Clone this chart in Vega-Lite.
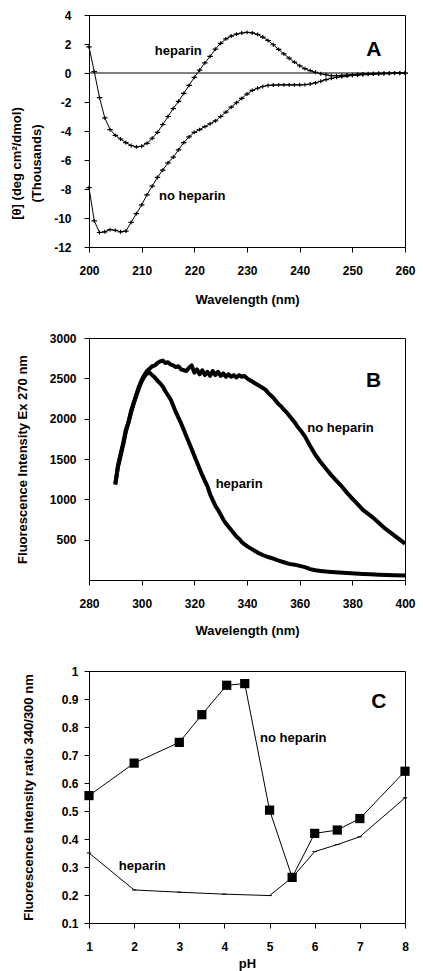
{
  "$schema": "https://vega.github.io/schema/vega-lite/v6.json",
  "autosize": {"type": "pad"},
  "padding": {"left": 9, "top": 8, "right": 5, "bottom": 5},
  "background": "white",
  "spacing": 91,
  "bounds": "flush",
  "config": {
    "view": {"stroke": "#000", "strokeWidth": 1},
    "font": "Liberation Sans",
    "axis": {"domainColor": "#000", "tickColor": "#000", "labelColor": "#000", "titleColor": "#000", "grid": false,
      "labelFont": "Liberation Sans", "labelFontWeight": "bold", "labelFontSize": 12,
      "titleFont": "Liberation Sans", "titleFontWeight": "bold", "titleFontSize": 13,
      "tickSize": 5, "domainWidth": 1, "tickWidth": 1, "labelOverlap": false, "labelFlush": false},
    "text": {"font": "Liberation Sans", "fontWeight": "bold", "fontSize": 13, "color": "#000"}
  },
  "datasets": {
    "cd": [
      {"s":"heparin","wl":200,"v":1.8},{"s":"heparin","wl":201,"v":0.1},{"s":"heparin","wl":202,"v":-1.7},{"s":"heparin","wl":203,"v":-3.1},{"s":"heparin","wl":204,"v":-3.9},{"s":"heparin","wl":205,"v":-4.3},{"s":"heparin","wl":206,"v":-4.55},{"s":"heparin","wl":207,"v":-4.8},{"s":"heparin","wl":208,"v":-5.0},{"s":"heparin","wl":209,"v":-5.1},{"s":"heparin","wl":210,"v":-5.05},{"s":"heparin","wl":211,"v":-4.85},{"s":"heparin","wl":212,"v":-4.5},{"s":"heparin","wl":213,"v":-4.1},{"s":"heparin","wl":214,"v":-3.55},{"s":"heparin","wl":215,"v":-3.0},{"s":"heparin","wl":216,"v":-2.45},{"s":"heparin","wl":217,"v":-1.95},{"s":"heparin","wl":218,"v":-1.4},{"s":"heparin","wl":219,"v":-0.85},{"s":"heparin","wl":220,"v":-0.3},{"s":"heparin","wl":221,"v":0.2},{"s":"heparin","wl":222,"v":0.7},{"s":"heparin","wl":223,"v":1.15},{"s":"heparin","wl":224,"v":1.65},{"s":"heparin","wl":225,"v":2.05},{"s":"heparin","wl":226,"v":2.35},{"s":"heparin","wl":227,"v":2.55},{"s":"heparin","wl":228,"v":2.68},{"s":"heparin","wl":229,"v":2.76},{"s":"heparin","wl":230,"v":2.8},{"s":"heparin","wl":231,"v":2.77},{"s":"heparin","wl":232,"v":2.66},{"s":"heparin","wl":233,"v":2.48},{"s":"heparin","wl":234,"v":2.24},{"s":"heparin","wl":235,"v":1.95},{"s":"heparin","wl":236,"v":1.63},{"s":"heparin","wl":237,"v":1.32},{"s":"heparin","wl":238,"v":1.02},{"s":"heparin","wl":239,"v":0.75},{"s":"heparin","wl":240,"v":0.5},{"s":"heparin","wl":241,"v":0.3},{"s":"heparin","wl":242,"v":0.16},{"s":"heparin","wl":243,"v":0.05},{"s":"heparin","wl":244,"v":-0.05},{"s":"heparin","wl":245,"v":-0.12},{"s":"heparin","wl":246,"v":-0.18},{"s":"heparin","wl":247,"v":-0.19},{"s":"heparin","wl":248,"v":-0.17},{"s":"heparin","wl":249,"v":-0.14},{"s":"heparin","wl":250,"v":-0.11},{"s":"heparin","wl":251,"v":-0.08},{"s":"heparin","wl":252,"v":-0.06},{"s":"heparin","wl":253,"v":-0.04},{"s":"heparin","wl":254,"v":-0.03},{"s":"heparin","wl":255,"v":-0.02},{"s":"heparin","wl":256,"v":-0.01},{"s":"heparin","wl":257,"v":0},{"s":"heparin","wl":258,"v":0.01},{"s":"heparin","wl":259,"v":0.01},{"s":"heparin","wl":260,"v":0},
      {"s":"no heparin","wl":200,"v":-7.9},{"s":"no heparin","wl":201,"v":-10.2},{"s":"no heparin","wl":202,"v":-11.0},{"s":"no heparin","wl":203,"v":-10.95},{"s":"no heparin","wl":204,"v":-10.8},{"s":"no heparin","wl":205,"v":-10.85},{"s":"no heparin","wl":206,"v":-10.95},{"s":"no heparin","wl":207,"v":-10.9},{"s":"no heparin","wl":208,"v":-10.3},{"s":"no heparin","wl":209,"v":-9.7},{"s":"no heparin","wl":210,"v":-9.1},{"s":"no heparin","wl":211,"v":-8.4},{"s":"no heparin","wl":212,"v":-7.8},{"s":"no heparin","wl":213,"v":-7.2},{"s":"no heparin","wl":214,"v":-6.7},{"s":"no heparin","wl":215,"v":-6.2},{"s":"no heparin","wl":216,"v":-5.8},{"s":"no heparin","wl":217,"v":-5.3},{"s":"no heparin","wl":218,"v":-4.8},{"s":"no heparin","wl":219,"v":-4.4},{"s":"no heparin","wl":220,"v":-4.1},{"s":"no heparin","wl":221,"v":-3.9},{"s":"no heparin","wl":222,"v":-3.7},{"s":"no heparin","wl":223,"v":-3.5},{"s":"no heparin","wl":224,"v":-3.3},{"s":"no heparin","wl":225,"v":-3.0},{"s":"no heparin","wl":226,"v":-2.7},{"s":"no heparin","wl":227,"v":-2.35},{"s":"no heparin","wl":228,"v":-2.05},{"s":"no heparin","wl":229,"v":-1.75},{"s":"no heparin","wl":230,"v":-1.45},{"s":"no heparin","wl":231,"v":-1.2},{"s":"no heparin","wl":232,"v":-1.05},{"s":"no heparin","wl":233,"v":-0.93},{"s":"no heparin","wl":234,"v":-0.86},{"s":"no heparin","wl":235,"v":-0.83},{"s":"no heparin","wl":236,"v":-0.82},{"s":"no heparin","wl":237,"v":-0.82},{"s":"no heparin","wl":238,"v":-0.82},{"s":"no heparin","wl":239,"v":-0.82},{"s":"no heparin","wl":240,"v":-0.82},{"s":"no heparin","wl":241,"v":-0.8},{"s":"no heparin","wl":242,"v":-0.76},{"s":"no heparin","wl":243,"v":-0.68},{"s":"no heparin","wl":244,"v":-0.57},{"s":"no heparin","wl":245,"v":-0.45},{"s":"no heparin","wl":246,"v":-0.37},{"s":"no heparin","wl":247,"v":-0.3},{"s":"no heparin","wl":248,"v":-0.25},{"s":"no heparin","wl":249,"v":-0.21},{"s":"no heparin","wl":250,"v":-0.17},{"s":"no heparin","wl":251,"v":-0.14},{"s":"no heparin","wl":252,"v":-0.12},{"s":"no heparin","wl":253,"v":-0.1},{"s":"no heparin","wl":254,"v":-0.08},{"s":"no heparin","wl":255,"v":-0.07},{"s":"no heparin","wl":256,"v":-0.05},{"s":"no heparin","wl":257,"v":-0.04},{"s":"no heparin","wl":258,"v":-0.03},{"s":"no heparin","wl":259,"v":-0.02},{"s":"no heparin","wl":260,"v":-0.01}
    ],
    "fl": [
      {"s":"no heparin","wl":290,"v":1180},{"s":"no heparin","wl":291,"v":1420},{"s":"no heparin","wl":292,"v":1560},{"s":"no heparin","wl":293,"v":1700},{"s":"no heparin","wl":294,"v":1860},{"s":"no heparin","wl":295,"v":1960},{"s":"no heparin","wl":296,"v":2100},{"s":"no heparin","wl":297,"v":2200},{"s":"no heparin","wl":298,"v":2300},{"s":"no heparin","wl":299,"v":2400},{"s":"no heparin","wl":300,"v":2480},{"s":"no heparin","wl":301,"v":2540},{"s":"no heparin","wl":302,"v":2590},{"s":"no heparin","wl":303,"v":2620},{"s":"no heparin","wl":304,"v":2650},{"s":"no heparin","wl":305,"v":2660},{"s":"no heparin","wl":306,"v":2690},{"s":"no heparin","wl":307,"v":2710},{"s":"no heparin","wl":308,"v":2720},{"s":"no heparin","wl":309,"v":2690},{"s":"no heparin","wl":310,"v":2700},{"s":"no heparin","wl":311,"v":2670},{"s":"no heparin","wl":312,"v":2660},{"s":"no heparin","wl":313,"v":2640},{"s":"no heparin","wl":314,"v":2650},{"s":"no heparin","wl":315,"v":2610},{"s":"no heparin","wl":316,"v":2600},{"s":"no heparin","wl":317,"v":2590},{"s":"no heparin","wl":318,"v":2630},{"s":"no heparin","wl":319,"v":2660},{"s":"no heparin","wl":320,"v":2570},{"s":"no heparin","wl":321,"v":2610},{"s":"no heparin","wl":322,"v":2550},{"s":"no heparin","wl":323,"v":2600},{"s":"no heparin","wl":324,"v":2540},{"s":"no heparin","wl":325,"v":2580},{"s":"no heparin","wl":326,"v":2530},{"s":"no heparin","wl":327,"v":2590},{"s":"no heparin","wl":328,"v":2540},{"s":"no heparin","wl":329,"v":2580},{"s":"no heparin","wl":330,"v":2530},{"s":"no heparin","wl":331,"v":2560},{"s":"no heparin","wl":332,"v":2520},{"s":"no heparin","wl":333,"v":2550},{"s":"no heparin","wl":334,"v":2520},{"s":"no heparin","wl":335,"v":2540},{"s":"no heparin","wl":336,"v":2510},{"s":"no heparin","wl":337,"v":2540},{"s":"no heparin","wl":338,"v":2520},{"s":"no heparin","wl":339,"v":2530},{"s":"no heparin","wl":340,"v":2500},{"s":"no heparin","wl":341,"v":2480},{"s":"no heparin","wl":342,"v":2460},{"s":"no heparin","wl":343,"v":2440},{"s":"no heparin","wl":344,"v":2420},{"s":"no heparin","wl":345,"v":2400},{"s":"no heparin","wl":346,"v":2380},{"s":"no heparin","wl":347,"v":2360},{"s":"no heparin","wl":348,"v":2320},{"s":"no heparin","wl":349,"v":2290},{"s":"no heparin","wl":350,"v":2260},{"s":"no heparin","wl":351,"v":2220},{"s":"no heparin","wl":352,"v":2180},{"s":"no heparin","wl":353,"v":2150},{"s":"no heparin","wl":354,"v":2110},{"s":"no heparin","wl":355,"v":2080},{"s":"no heparin","wl":356,"v":2040},{"s":"no heparin","wl":357,"v":2000},{"s":"no heparin","wl":358,"v":1960},{"s":"no heparin","wl":359,"v":1910},{"s":"no heparin","wl":360,"v":1870},{"s":"no heparin","wl":362,"v":1780},{"s":"no heparin","wl":364,"v":1660},{"s":"no heparin","wl":366,"v":1550},{"s":"no heparin","wl":368,"v":1460},{"s":"no heparin","wl":370,"v":1380},{"s":"no heparin","wl":372,"v":1300},{"s":"no heparin","wl":374,"v":1230},{"s":"no heparin","wl":376,"v":1160},{"s":"no heparin","wl":378,"v":1080},{"s":"no heparin","wl":380,"v":1010},{"s":"no heparin","wl":382,"v":940},{"s":"no heparin","wl":384,"v":870},{"s":"no heparin","wl":386,"v":820},{"s":"no heparin","wl":388,"v":770},{"s":"no heparin","wl":390,"v":710},{"s":"no heparin","wl":392,"v":650},{"s":"no heparin","wl":394,"v":600},{"s":"no heparin","wl":396,"v":550},{"s":"no heparin","wl":398,"v":500},{"s":"no heparin","wl":400,"v":450},
      {"s":"heparin","wl":290,"v":1200},{"s":"heparin","wl":291,"v":1400},{"s":"heparin","wl":292,"v":1540},{"s":"heparin","wl":293,"v":1680},{"s":"heparin","wl":294,"v":1840},{"s":"heparin","wl":295,"v":1950},{"s":"heparin","wl":296,"v":2080},{"s":"heparin","wl":297,"v":2190},{"s":"heparin","wl":298,"v":2290},{"s":"heparin","wl":299,"v":2380},{"s":"heparin","wl":300,"v":2460},{"s":"heparin","wl":301,"v":2520},{"s":"heparin","wl":302,"v":2560},{"s":"heparin","wl":303,"v":2570},{"s":"heparin","wl":304,"v":2540},{"s":"heparin","wl":305,"v":2510},{"s":"heparin","wl":306,"v":2470},{"s":"heparin","wl":307,"v":2440},{"s":"heparin","wl":308,"v":2400},{"s":"heparin","wl":309,"v":2340},{"s":"heparin","wl":310,"v":2290},{"s":"heparin","wl":311,"v":2240},{"s":"heparin","wl":312,"v":2160},{"s":"heparin","wl":313,"v":2080},{"s":"heparin","wl":314,"v":2010},{"s":"heparin","wl":315,"v":1940},{"s":"heparin","wl":316,"v":1860},{"s":"heparin","wl":317,"v":1780},{"s":"heparin","wl":318,"v":1700},{"s":"heparin","wl":319,"v":1620},{"s":"heparin","wl":320,"v":1540},{"s":"heparin","wl":321,"v":1460},{"s":"heparin","wl":322,"v":1380},{"s":"heparin","wl":323,"v":1300},{"s":"heparin","wl":324,"v":1230},{"s":"heparin","wl":325,"v":1160},{"s":"heparin","wl":326,"v":1060},{"s":"heparin","wl":327,"v":990},{"s":"heparin","wl":328,"v":920},{"s":"heparin","wl":329,"v":870},{"s":"heparin","wl":330,"v":810},{"s":"heparin","wl":331,"v":750},{"s":"heparin","wl":332,"v":700},{"s":"heparin","wl":333,"v":660},{"s":"heparin","wl":334,"v":620},{"s":"heparin","wl":335,"v":580},{"s":"heparin","wl":336,"v":540},{"s":"heparin","wl":337,"v":510},{"s":"heparin","wl":338,"v":470},{"s":"heparin","wl":339,"v":445},{"s":"heparin","wl":340,"v":420},{"s":"heparin","wl":342,"v":380},{"s":"heparin","wl":344,"v":340},{"s":"heparin","wl":346,"v":310},{"s":"heparin","wl":348,"v":285},{"s":"heparin","wl":350,"v":265},{"s":"heparin","wl":352,"v":240},{"s":"heparin","wl":354,"v":220},{"s":"heparin","wl":356,"v":200},{"s":"heparin","wl":358,"v":190},{"s":"heparin","wl":360,"v":175},{"s":"heparin","wl":362,"v":160},{"s":"heparin","wl":364,"v":135},{"s":"heparin","wl":366,"v":120},{"s":"heparin","wl":368,"v":112},{"s":"heparin","wl":370,"v":105},{"s":"heparin","wl":372,"v":100},{"s":"heparin","wl":375,"v":93},{"s":"heparin","wl":378,"v":86},{"s":"heparin","wl":381,"v":80},{"s":"heparin","wl":384,"v":75},{"s":"heparin","wl":387,"v":70},{"s":"heparin","wl":390,"v":66},{"s":"heparin","wl":393,"v":62},{"s":"heparin","wl":396,"v":59},{"s":"heparin","wl":400,"v":56}
    ],
    "ph": [
      {"s":"no heparin","ph":1,"v":0.555},{"s":"no heparin","ph":2,"v":0.671},{"s":"no heparin","ph":3,"v":0.745},{"s":"no heparin","ph":3.5,"v":0.844},{"s":"no heparin","ph":4.05,"v":0.949},{"s":"no heparin","ph":4.45,"v":0.955},{"s":"no heparin","ph":5,"v":0.503},{"s":"no heparin","ph":5.5,"v":0.263},{"s":"no heparin","ph":6,"v":0.42},{"s":"no heparin","ph":6.5,"v":0.432},{"s":"no heparin","ph":7,"v":0.473},{"s":"no heparin","ph":8,"v":0.642},
      {"s":"heparin","ph":1,"v":0.35},{"s":"heparin","ph":2,"v":0.218},{"s":"heparin","ph":3,"v":0.21},{"s":"heparin","ph":4,"v":0.203},{"s":"heparin","ph":5,"v":0.198},{"s":"heparin","ph":5.5,"v":0.262},{"s":"heparin","ph":6,"v":0.355},{"s":"heparin","ph":6.5,"v":0.38},{"s":"heparin","ph":7,"v":0.408},{"s":"heparin","ph":8,"v":0.547}
    ]
  },
  "vconcat": [
    {
      "width": 316, "height": 232,
      "encoding": {
        "x": {"type": "quantitative", "scale": {"domain": [200, 260], "nice": false, "zero": false},
          "axis": {"values": [200, 210, 220, 230, 240, 250, 260], "title": "Wavelength (nm)", "titleY": 52, "titleBaseline": "middle", "labelBaseline": "middle", "labelPadding": 18}},
        "y": {"type": "quantitative", "scale": {"domain": [-12, 4], "nice": false, "zero": false},
          "axis": {"values": [-12, -10, -8, -6, -4, -2, 0, 2, 4], "labelExpr": "toString(datum.value)", "labelPadding": 13,
            "title": ["[θ] (deg cm²/dmol)", "(Thousands)"], "titleX": -73, "titleY": 148, "titleAlign": "center", "titleBaseline": "middle", "titleLineHeight": 20}}
      },
      "layer": [
        {"data": {"values": [{"z": 0}]}, "mark": {"type": "rule", "color": "#000", "strokeWidth": 1}, "encoding": {"y": {"field": "z", "type": "quantitative"}}},
        {"data": {"name": "cd"}, "mark": {"type": "line", "color": "#000", "strokeWidth": 1}, "encoding": {"x": {"field": "wl"}, "y": {"field": "v"}, "detail": {"field": "s"}}},
        {"data": {"name": "cd"}, "mark": {"type": "point", "shape": "M-1,0H1M0,-0.7V0.7", "size": 30, "filled": false, "color": "#000", "strokeWidth": 1.2, "opacity": 1}, "encoding": {"x": {"field": "wl"}, "y": {"field": "v"}}},
        {"data": {"values": [{}]}, "mark": {"type": "text", "align": "left", "baseline": "middle"}, "encoding": {"x": {"datum": 212.5}, "y": {"datum": 1.5}, "text": {"value": "heparin"}}},
        {"data": {"values": [{}]}, "mark": {"type": "text", "align": "left", "baseline": "middle"}, "encoding": {"x": {"datum": 213.3}, "y": {"datum": -8.5}, "text": {"value": "no heparin"}}},
        {"data": {"values": [{}]}, "mark": {"type": "text", "align": "center", "baseline": "middle", "fontSize": 21}, "encoding": {"x": {"datum": 254.1}, "y": {"datum": 1.6}, "text": {"value": "A"}}}
      ]
    },
    {
      "width": 316, "height": 242,
      "encoding": {
        "x": {"type": "quantitative", "scale": {"domain": [280, 400], "nice": false, "zero": false},
          "axis": {"values": [280, 300, 320, 340, 360, 380, 400], "title": "Wavelength (nm)", "titleY": 50, "titleBaseline": "middle", "labelBaseline": "middle", "labelPadding": 18}},
        "y": {"type": "quantitative", "scale": {"domain": [0, 3000], "nice": false},
          "axis": {"values": [500, 1000, 1500, 2000, 2500, 3000], "format": "d", "labelPadding": 8,
            "title": "Fluorescence Intensity Ex 270 nm", "titleX": -67, "titleBaseline": "middle"}}
      },
      "layer": [
        {"data": {"name": "fl"}, "mark": {"type": "line", "color": "#000", "strokeWidth": 4, "strokeJoin": "round"}, "encoding": {"x": {"field": "wl"}, "y": {"field": "v"}, "detail": {"field": "s"}}},
        {"data": {"values": [{}]}, "mark": {"type": "text", "align": "left", "baseline": "middle"}, "encoding": {"x": {"datum": 362.9}, "y": {"datum": 1884}, "text": {"value": "no heparin"}}},
        {"data": {"values": [{}]}, "mark": {"type": "text", "align": "left", "baseline": "middle"}, "encoding": {"x": {"datum": 328.1}, "y": {"datum": 1193}, "text": {"value": "heparin"}}},
        {"data": {"values": [{}]}, "mark": {"type": "text", "align": "center", "baseline": "middle", "fontSize": 21}, "encoding": {"x": {"datum": 388.1}, "y": {"datum": 2462}, "text": {"value": "B"}}}
      ]
    },
    {
      "width": 316, "height": 252,
      "encoding": {
        "x": {"type": "quantitative", "scale": {"domain": [1, 8], "nice": false, "zero": false},
          "axis": {"values": [1, 2, 3, 4, 5, 6, 7, 8], "title": "pH", "titleY": 40, "titleBaseline": "middle", "labelBaseline": "middle", "labelPadding": 18}},
        "y": {"type": "quantitative", "scale": {"domain": [0.1, 1], "nice": false, "zero": false},
          "axis": {"values": [0.1, 0.2, 0.3, 0.4, 0.5, 0.6, 0.7, 0.8, 0.9, 1], "format": "~g", "labelPadding": 6,
            "title": "Fluorescence Intensity ratio 340/300 nm", "titleX": -61, "titleBaseline": "middle"}}
      },
      "layer": [
        {"data": {"name": "ph"}, "mark": {"type": "line", "color": "#000", "strokeWidth": 1}, "encoding": {"x": {"field": "ph"}, "y": {"field": "v"}, "detail": {"field": "s"}}},
        {"data": {"name": "ph"}, "transform": [{"filter": "datum.s === 'heparin'"}], "mark": {"type": "point", "shape": "M-1,0H1", "size": 20, "filled": false, "color": "#000", "strokeWidth": 1, "opacity": 1}, "encoding": {"x": {"field": "ph"}, "y": {"field": "v"}}},
        {"data": {"name": "ph"}, "transform": [{"filter": "datum.s === 'no heparin'"}], "mark": {"type": "square", "size": 85, "color": "#000", "opacity": 1}, "encoding": {"x": {"field": "ph"}, "y": {"field": "v"}}},
        {"data": {"values": [{}]}, "mark": {"type": "text", "align": "left", "baseline": "middle"}, "encoding": {"x": {"datum": 4.79}, "y": {"datum": 0.759}, "text": {"value": "no heparin"}}},
        {"data": {"values": [{}]}, "mark": {"type": "text", "align": "left", "baseline": "middle"}, "encoding": {"x": {"datum": 1.66}, "y": {"datum": 0.305}, "text": {"value": "heparin"}}},
        {"data": {"values": [{}]}, "mark": {"type": "text", "align": "center", "baseline": "middle", "fontSize": 21}, "encoding": {"x": {"datum": 7.42}, "y": {"datum": 0.891}, "text": {"value": "C"}}}
      ]
    }
  ]
}
